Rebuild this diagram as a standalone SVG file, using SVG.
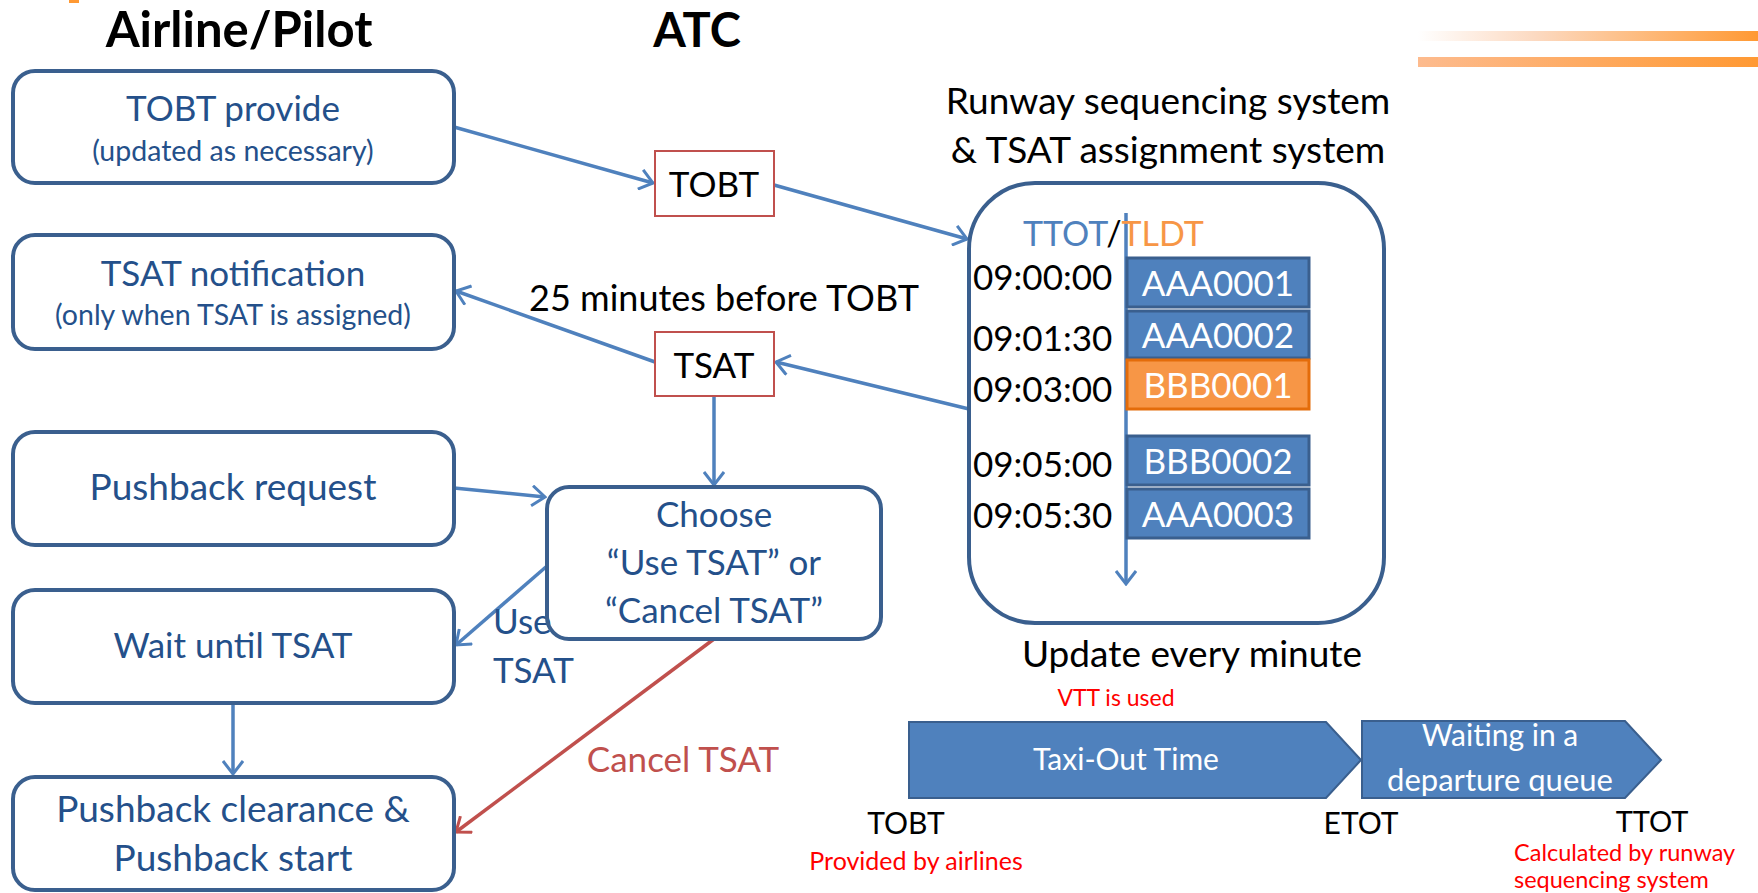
<svg xmlns="http://www.w3.org/2000/svg" width="1758" height="893" viewBox="0 0 1758 893">
<defs>
<linearGradient id="g1" x1="0" x2="1" y1="0" y2="0"><stop offset="0" stop-color="#FFFFFF"/><stop offset="0.35" stop-color="#FCD9C0"/><stop offset="1" stop-color="#FF9933"/></linearGradient>
<linearGradient id="g2" x1="0" x2="1" y1="0" y2="0"><stop offset="0" stop-color="#FDBB8E"/><stop offset="1" stop-color="#FF9933"/></linearGradient>
<marker id="ab" viewBox="0 0 16 22" refX="14" refY="11" markerWidth="16" markerHeight="22" markerUnits="userSpaceOnUse" orient="auto"><path d="M1,1 L14,11 L1,21" fill="none" stroke="#4F81BD" stroke-width="3"/></marker>
<marker id="ar" viewBox="0 0 16 22" refX="14" refY="11" markerWidth="16" markerHeight="22" markerUnits="userSpaceOnUse" orient="auto"><path d="M1,1 L14,11 L1,21" fill="none" stroke="#C0504D" stroke-width="3"/></marker>
</defs>
<style>
text{font-family:Lato,"Liberation Sans",sans-serif}
.box{fill:none;stroke:#3A5F8E;stroke-width:4}
.bt{fill:#24508A;font-size:36px;text-anchor:middle}
.bs{fill:#24508A;font-size:28.5px;text-anchor:middle}
.hd{fill:#000;font-size:49px;font-weight:bold;text-anchor:middle}
.rb{fill:#FFFFFF;stroke:#C0504D;stroke-width:2}
.bk{fill:#000;font-size:35px}
.c{text-anchor:middle}
.con{fill:none;stroke:#4F81BD;stroke-width:3.5}
.fl{fill:#4F81BD;stroke:#3A5F8E;stroke-width:3}
.ft{fill:#fff;font-size:35px;text-anchor:middle}
.red{fill:#FF0000;font-size:24px}
.wt{fill:#fff;font-size:32px;text-anchor:middle}
</style>
<rect x="69" y="0" width="10" height="3" fill="#FF9933"/>
<rect x="1418" y="31" width="340" height="10" fill="url(#g1)"/>
<rect x="1418" y="57" width="340" height="10" fill="url(#g2)"/>
<text class="hd" x="239" y="47">Airline/Pilot</text>
<text class="hd" x="697" y="47" style="font-size:47px">ATC</text>

<g id="connectors">
<line class="con" x1="454" y1="127" x2="653" y2="183" marker-end="url(#ab)"/>
<line class="con" x1="774" y1="185" x2="967" y2="239" marker-end="url(#ab)"/>
<line class="con" x1="969" y1="409" x2="776" y2="362" marker-end="url(#ab)"/>
<line class="con" x1="655" y1="362" x2="456" y2="291" marker-end="url(#ab)"/>
<line class="con" x1="714" y1="396" x2="714" y2="485" marker-end="url(#ab)"/>
<line class="con" x1="454" y1="488" x2="545" y2="497" marker-end="url(#ab)"/>
<line class="con" x1="547" y1="566" x2="456" y2="645" marker-end="url(#ab)"/>
<line class="con" x1="233" y1="703" x2="233" y2="774" marker-end="url(#ab)"/>
<line fill="none" stroke="#C0504D" stroke-width="3.5" x1="714" y1="639" x2="456" y2="832" marker-end="url(#ar)"/>
<line class="con" x1="1126" y1="213" x2="1126" y2="584" marker-end="url(#ab)"/>
</g>

<g id="n-tobt-provide"><rect class="box" x="13" y="71" width="441" height="112" rx="22"/><text class="bt" x="233" y="121" style="font-size:35px">TOBT provide</text><text class="bs" x="233" y="161">(updated as necessary)</text></g>
<g id="n-tsat-notification"><rect class="box" x="13" y="235" width="441" height="114" rx="22"/><text class="bt" x="233" y="286" style="font-size:35px">TSAT notification</text><text class="bs" x="233" y="325">(only when TSAT is assigned)</text></g>
<g id="n-pushback-request"><rect class="box" x="13" y="432" width="441" height="113" rx="22"/><text class="bt" x="233" y="500" style="font-size:37px">Pushback request</text></g>
<g id="n-wait"><rect class="box" x="13" y="590" width="441" height="113" rx="22"/><text class="bt" x="233" y="658" style="font-size:35px">Wait until TSAT</text></g>
<g id="n-pushback-clearance"><rect class="box" x="13" y="777" width="441" height="113" rx="22"/><text class="bt" x="233" y="822" style="font-size:37px">Pushback clearance &amp;</text><text class="bt" x="233" y="871" style="font-size:37px">Pushback start</text></g>

<g id="n-tobt"><rect class="rb" x="655" y="151" width="119" height="65"/><text class="bk c" x="714" y="197">TOBT</text></g>
<text class="bk c" x="724" y="311" style="font-size:36px">25 minutes before TOBT</text>
<g id="n-tsat"><rect class="rb" x="655" y="332" width="119" height="64"/><text class="bk c" x="714" y="378">TSAT</text></g>

<text x="493" y="634" style="fill:#24508A;font-size:35px">Use</text>
<text x="493" y="683" style="fill:#24508A;font-size:35px">TSAT</text>
<g id="n-choose"><rect class="box" x="547" y="487" width="334" height="152" rx="22"/><text class="bt" x="714" y="527" style="font-size:35px">Choose</text><text class="bt" x="714" y="575" style="font-size:35px">“Use TSAT” or</text><text class="bt" x="714" y="623" style="font-size:35px">“Cancel TSAT”</text></g>
<text x="683" y="772" style="fill:#C0504D;font-size:35px;text-anchor:middle">Cancel TSAT</text>

<text class="bk c" x="1168" y="114" style="font-size:37px">Runway sequencing system</text>
<text class="bk c" x="1168" y="163" style="font-size:37px">&amp; TSAT assignment system</text>
<g id="n-system">
<rect class="box" x="969" y="183" width="415" height="440" rx="66"/>
<text x="1023" y="246" style="font-size:34px"><tspan fill="#4F81BD">TTOT</tspan><tspan fill="#000">/</tspan><tspan fill="#F79646">TLDT</tspan></text>
<text class="bk" x="973" y="290">09:00:00</text>
<text class="bk" x="973" y="351">09:01:30</text>
<text class="bk" x="973" y="402">09:03:00</text>
<text class="bk" x="973" y="477">09:05:00</text>
<text class="bk" x="973" y="528">09:05:30</text>
<rect class="fl" x="1127" y="258" width="182" height="49"/><text class="ft" x="1218" y="296">AAA0001</text>
<rect class="fl" x="1127" y="311" width="182" height="47"/><text class="ft" x="1218" y="348">AAA0002</text>
<rect x="1127" y="360" width="182" height="49" fill="#F79646" stroke="#E46C0A" stroke-width="3"/><text class="ft" x="1218" y="398">BBB0001</text>
<rect class="fl" x="1127" y="436" width="182" height="49"/><text class="ft" x="1218" y="474">BBB0002</text>
<rect class="fl" x="1127" y="489" width="182" height="49"/><text class="ft" x="1218" y="527">AAA0003</text>
</g>
<text class="bk c" x="1192" y="667" style="font-size:37px">Update every minute</text>
<text class="red c" x="1116" y="706" style="font-size:23px">VTT is used</text>
<g id="n-taxi"><path d="M909,722 H1326 L1361,760 L1326,798 H909 Z" fill="#4F81BD" stroke="#3A5F8E" stroke-width="2"/><text class="wt" x="1126" y="770" style="font-size:30px">Taxi-Out Time</text></g>
<g id="n-wait-queue"><path d="M1362,721 H1625 L1661,760 L1625,798 H1362 Z" fill="#4F81BD" stroke="#3A5F8E" stroke-width="2"/><text class="wt" x="1500" y="746" style="font-size:30px">Waiting in a</text><text class="wt" x="1500" y="791" style="font-size:31px">departure queue</text></g>
<text class="c" x="906" y="834" style="font-size:30px;fill:#000">TOBT</text>
<text class="c" x="1361" y="834" style="font-size:30px;fill:#000">ETOT</text>
<text class="c" x="1652" y="832" style="font-size:29px;fill:#000">TTOT</text>
<text class="red c" x="916" y="870" style="font-size:25px">Provided by airlines</text>
<text class="red" x="1514" y="861" style="font-size:23.5px">Calculated by runway</text>
<text class="red" x="1514" y="888" style="font-size:23.5px">sequencing system</text>
</svg>
